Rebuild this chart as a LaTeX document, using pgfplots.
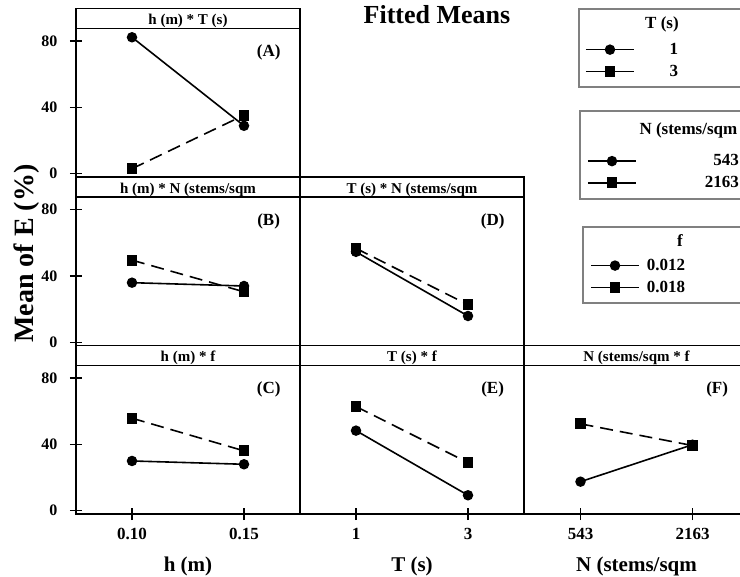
\documentclass[border=0pt]{standalone}
\usepackage{fontspec}
\setmainfont{Liberation Serif}
\usepackage{pgfplots}
\pgfplotsset{compat=1.18}
\newcommand{\fs}[1]{\fontsize{#1}{#1}\selectfont\bfseries}
\definecolor{legframe}{RGB}{128,128,128}

\pgfplotsset{
  panel/.style={
    scale only axis, width=224pt, height=148.5pt,
    xmin=-0.5, xmax=1.5, ymin=-2, ymax=87.6,
    axis line style={line width=1.7pt},
    xtick=\empty, ytick=\empty, clip=false,
    tick style={line width=1.3pt, black},
    tick align=center, major tick length=12pt, tick pos=left,
    /pgf/number format/assume math mode=true,
    yticklabel style={font=\fs{16}, xshift=-9pt},
    xticklabel style={font=\fs{17}, yshift=-5pt},
    xlabel style={font=\fs{21}, at={(axis description cs:0.5,-0.35)}, anchor=center},
    every axis title/.style={at={(axis description cs:0.5,1)}, anchor=south,
      draw, line width=1.7pt, minimum width=224pt, minimum height=20pt,
      inner sep=0pt, outer sep=0pt, font=\fs{15}, text height=13pt, text depth=0pt},
  },
  yt/.style={ytick={0,40,80}},
  xt/.style={xtick={0,1}},
  s1/.style={black, line width=1.6pt, solid, mark=*, mark size=4.4pt, mark options={solid}},
  s2/.style={black, line width=1.6pt, dash pattern=on 13pt off 7pt, mark=square*, mark size=4.6pt, mark options={solid}},
  l1/.style={black, line width=1.6pt, solid, mark=*, mark size=4.4pt},
  l2/.style={black, line width=1.6pt, solid, mark=square*, mark size=4.6pt},
  legaxis/.style={at={(0pt,0pt)}, anchor=north west, scale only axis,
    width=740pt, height=577pt, hide axis, xmin=0, xmax=1, ymin=0, ymax=1,
    legend style={anchor=west, draw=none, fill=none, inner sep=0pt,
      font=\fs{17}, row sep=9pt, column sep=0pt,
      nodes={inner sep=0pt, outer sep=0pt}},
    legend image code/.code={\draw[##1, mark repeat=2, mark phase=2]
      plot coordinates {(0pt,0pt) (24pt,0pt) (48pt,0pt)};}},
}

\begin{document}
\begin{tikzpicture}
\node[font=\fs{26}] at (437pt,-15pt) {Fitted Means};

% (A) h * T
\begin{axis}[panel, yt, at={(76pt,-177pt)}, anchor=south west, title={h (m) * T (s)}]
\addplot[s2] coordinates {(0,3.0) (1,35.3)};
\addplot[s1] coordinates {(0,82.3) (1,28.9)};
\node[font=\fs{17}] at (axis cs:1.22,73) {(A)};
\end{axis}

% (B) h * N
\begin{axis}[panel, yt, at={(76pt,-345.5pt)}, anchor=south west, title={h (m) * N (stems/sqm},
  ylabel={Mean of E (\%)},
  ylabel style={font=\fs{28}, at={(axis description cs:-0.22,0.62)}, anchor=center}]
\addplot[s2] coordinates {(0,49.5) (1,30.4)};
\addplot[s1] coordinates {(0,35.9) (1,33.9)};
\node[font=\fs{17}] at (axis cs:1.22,73) {(B)};
\end{axis}

% (D) T * N
\begin{axis}[panel, at={(300pt,-345.5pt)}, anchor=south west, title={T (s) * N (stems/sqm}]
\addplot[s2] coordinates {(0,56.6) (1,22.6)};
\addplot[s1] coordinates {(0,54.5) (1,15.8)};
\node[font=\fs{17}] at (axis cs:1.22,73) {(D)};
\end{axis}

% (C) h * f
\begin{axis}[panel, yt, xt, xticklabels={0.10,0.15}, xlabel={h (m)},
  at={(76pt,-514pt)}, anchor=south west, title={h (m) * f}]
\addplot[s2] coordinates {(0,55.8) (1,36.1)};
\addplot[s1] coordinates {(0,30.0) (1,28.0)};
\node[font=\fs{17}] at (axis cs:1.22,73) {(C)};
\end{axis}

% (E) T * f
\begin{axis}[panel, xt, xticklabels={1,3}, xlabel={T (s)},
  at={(300pt,-514pt)}, anchor=south west, title={T (s) * f}]
\addplot[s2] coordinates {(0,62.8) (1,29.0)};
\addplot[s1] coordinates {(0,48.3) (1,9.3)};
\node[font=\fs{17}] at (axis cs:1.22,73) {(E)};
\end{axis}

% (F) N * f
\begin{axis}[panel, xt, xticklabels={543,2163}, xlabel={N (stems/sqm},
  at={(524.5pt,-514pt)}, anchor=south west, title={N (stems/sqm * f}]
\addplot[s2] coordinates {(0,52.4) (1,39.3)};
\addplot[s1] coordinates {(0,17.5) (1,39.8)};
\node[font=\fs{17}] at (axis cs:1.22,73) {(F)};
\end{axis}

% Legends
\draw[legframe, line width=1.6pt] (579pt,-9pt) rectangle (780pt,-87pt);
\node[font=\fs{17}] at (662pt,-24pt) {T (s)};
\begin{axis}[legaxis, legend style={at={(0.7905,0.8951)}}]
\addlegendimage{l1}\addlegendentry{\makebox[78pt][c]{1}}
\addlegendimage{l2}\addlegendentry{\makebox[78pt][c]{3}}
\end{axis}

\draw[legframe, line width=1.6pt] (580pt,-111pt) rectangle (780pt,-199pt);
\node[font=\fs{17}, anchor=west] at (636pt,-130pt) {N (stems/sqm};
\begin{axis}[legaxis, legend style={at={(0.7932,0.7019)}}]
\addlegendimage{l1}\addlegendentry{\makebox[102pt][r]{543}}
\addlegendimage{l2}\addlegendentry{\makebox[102pt][r]{2163}}
\end{axis}

\draw[legframe, line width=1.6pt] (583pt,-227pt) rectangle (780pt,-303pt);
\node[font=\fs{17}] at (680pt,-241pt) {f};
\begin{axis}[legaxis, legend style={at={(0.7973,0.5208)}}]
\addlegendimage{l1}\addlegendentry{\makebox[60pt][l]{\hspace*{7pt}0.012}}
\addlegendimage{l2}\addlegendentry{\makebox[60pt][l]{\hspace*{7pt}0.018}}
\end{axis}

\pgfresetboundingbox
\path[use as bounding box] (0pt,0pt) rectangle (740pt,-577pt);
\end{tikzpicture}
\end{document}
